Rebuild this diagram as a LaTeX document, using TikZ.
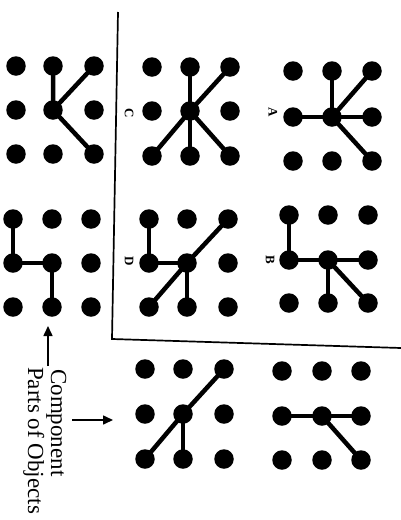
\documentclass[tikz,border=0pt]{standalone}
\usepackage{fontspec}
\setmainfont{Liberation Serif}
\usetikzlibrary{arrows.meta}
\begin{document}
\begin{tikzpicture}[x=1pt,y=-1pt,
  dot/.style={circle,fill=black,inner sep=0pt,minimum size=19.5pt},
  link/.style={line width=4.5pt},
  frame/.style={line width=1.7pt},
  pointer/.style={line width=1.6pt,-{Triangle[length=10pt,width=9pt]}},
  lab/.style={rotate=-90,font=\bfseries\fontsize{13}{13}\selectfont,inner sep=0pt},
  captext/.style={rotate=-90,anchor=base west,inner sep=0pt,font=\fontsize{23}{23}\selectfont}]
\useasboundingbox (0,0) rectangle (401,520);
% grids
\foreach \g/\xa/\xb/\xc/\ya/\yb/\yc in {
  K/16/53/94/66/110/154,
  C/152/190/230/67/111/156,
  A/293/332/372/71/117/161,
  L/13/52/91/219/263/307,
  D/149/187/228/219/263/307,
  B/289/328/368/215/260/303,
  E/145/183/224/369/414/459,
  F/282/322/361/371/416/460}{
  \foreach \c/\x in {1/\xa,2/\xb,3/\xc}{
    \foreach \r/\y in {1/\ya,2/\yb,3/\yc}{
      \node[dot] (\g\c\r) at (\x,\y) {};
    }
  }
}
% component links
\draw[link] (K21.center) -- (K22.center) -- (K31.center);
\draw[link] (K22.center) -- (K33.center);
\foreach \t in {21,23,31,13,33} \draw[link] (C22.center) -- (C\t.center);
\foreach \t in {21,12,32,31,33} \draw[link] (A22.center) -- (A\t.center);
\draw[link] (L11.center) -- (L12.center) -- (L22.center) -- (L23.center);
\draw[link] (D11.center) -- (D12.center) -- (D22.center);
\foreach \t in {23,13,31} \draw[link] (D22.center) -- (D\t.center);
\draw[link] (B11.center) -- (B12.center) -- (B22.center);
\foreach \t in {32,23,33} \draw[link] (B22.center) -- (B\t.center);
\foreach \t in {23,13,31} \draw[link] (E22.center) -- (E\t.center);
\draw[link] (F12.center) -- (F22.center) -- (F32.center);
\draw[link] (F22.center) -- (F33.center);
% labels
\node[lab] (labC) at (129,113) {C};
\node[lab] (labA) at (273,112) {A};
\node[lab] (labD) at (129,261) {D};
\node[lab] (labB) at (270,260) {B};
% frame
\coordinate (ftop) at (118,12);
\coordinate (fcorner) at (112,339);
\coordinate (fright) at (401,348);
\draw[frame] (ftop) -- (fcorner) -- (fright);
% caption
\node[captext] (cap1) at (51,369) {Component};
\node[captext] (cap2) at (28,367) {Parts of Objects};
% pointers
\coordinate (upstart) at (48,366);
\coordinate (uptip) at (48,326);
\draw[pointer] (upstart) -- (uptip);
\coordinate (rstart) at (72,420);
\coordinate (rtip) at (113,420);
\draw[pointer] (rstart) -- (rtip);
\end{tikzpicture}
\end{document}
